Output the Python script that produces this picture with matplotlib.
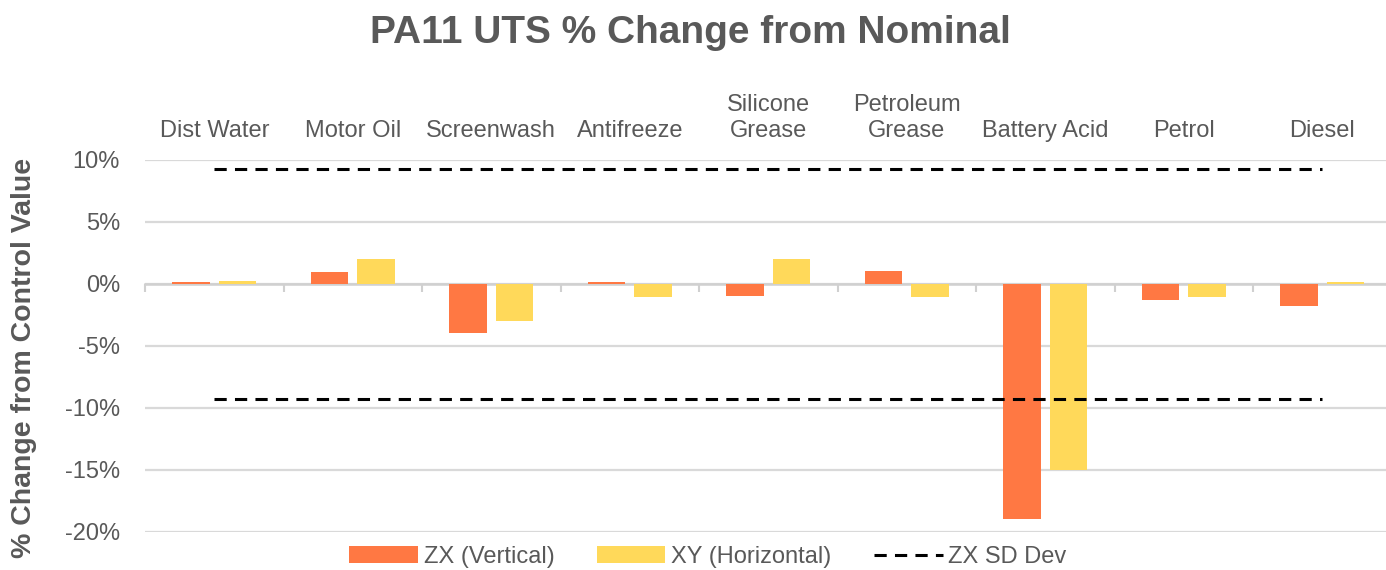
import matplotlib
matplotlib.use("Agg")
import matplotlib.pyplot as plt
import numpy as np
from matplotlib.ticker import FuncFormatter

plt.rcParams['font.family'] = ['Liberation Sans', 'DejaVu Sans']

categories = ["Dist Water", "Motor Oil", "Screenwash", "Antifreeze", "Silicone\nGrease",
              "Petroleum\nGrease", "Battery Acid", "Petrol", "Diesel"]
zx_vertical = [0.1, 0.95, -4.0, 0.1, -1.0, 1.0, -19.0, -1.3, -1.8]
xy_horizontal = [0.2, 2.0, -3.0, -1.1, 2.0, -1.1, -15.0, -1.1, 0.15]
zx_sd_upper = [9.25] * 9
zx_sd_lower = [-9.3] * 9
y_ticks = [-20, -15, -10, -5, 0, 5, 10]

ORANGE = "#FF7843"
YELLOW = "#FFD95A"
TXT = "#595959"
GRID = "#D9D9D9"

W, H = 1386, 570
fig = plt.figure(figsize=(W / 100, H / 100), dpi=100)
left = 145 / W
right = 1391.5 / W
bottom = 1 - 531.5 / H
top = 1 - 159.5 / H
ax = fig.add_axes([left, bottom, right - left, top - bottom])

x = np.arange(len(categories))
bw = 0.27
off = 0.168
b1 = ax.bar(x - off, zx_vertical, width=bw, color=ORANGE, label="ZX (Vertical)", zorder=3)
b2 = ax.bar(x + off, xy_horizontal, width=bw, color=YELLOW, label="XY (Horizontal)", zorder=3)
l1, = ax.plot(x, zx_sd_upper, color="black", lw=2.2, ls=(0, (4, 2.7)), dash_capstyle="butt",
              label="ZX SD Dev", zorder=4)
ax.plot(x, zx_sd_lower, color="black", lw=2.2, ls=(0, (4, 2.7)), dash_capstyle="butt", zorder=4)

ax.set_xlim(-0.5, len(categories) - 0.5)
ax.set_ylim(-20, 10)
ax.set_yticks(y_ticks)
ax.yaxis.set_major_formatter(FuncFormatter(lambda v, p: f"{int(v)}%"))
ax.tick_params(axis='y', length=0, pad=18, labelsize=17, labelcolor=TXT)
ax.grid(axis='y', color=GRID, lw=1.6, zorder=0)
ax.set_axisbelow(True)

for s in ['top', 'right', 'left']:
    ax.spines[s].set_visible(False)
ax.spines['bottom'].set_position(('data', 0))
ax.spines['bottom'].set_color("#D0D0D0")
ax.spines['bottom'].set_linewidth(1.8)
ax.spines['bottom'].set_zorder(2)

ax.set_xticks(x)
ax.set_xticklabels(categories)
ax.set_xticks(np.arange(-0.5, len(categories), 1.0), minor=True)
ax.tick_params(axis='x', which='major', bottom=False, top=False, labelbottom=False,
               labeltop=True, labelsize=17, labelcolor=TXT, pad=9)
ax.tick_params(axis='x', which='minor', bottom=True, top=False, length=6, width=1.5,
               color="#D0D0D0", direction='out')
for lbl in ax.get_xticklabels():
    lbl.set_linespacing(1.25)

fig.text(690 / W, 1 - 33 / H, "PA11 UTS % Change from Nominal", ha='center', va='center',
         fontsize=28, fontweight='bold', color=TXT)
fig.text(24 / W, 1 - 358 / H, "% Change from Control Value", rotation=90, ha='center',
         va='center', fontsize=20.5, fontweight='bold', color=TXT)

leg = fig.legend(handles=[b1, b2, l1], loc='center', bbox_to_anchor=(708 / W, 1 - 557 / H),
                 ncol=3, frameon=False, fontsize=17, handlelength=2.9, handleheight=0.75,
                 columnspacing=1.8, handletextpad=0.25)
for t in leg.get_texts():
    t.set_color(TXT)

fig.savefig("out.png", dpi=100)
